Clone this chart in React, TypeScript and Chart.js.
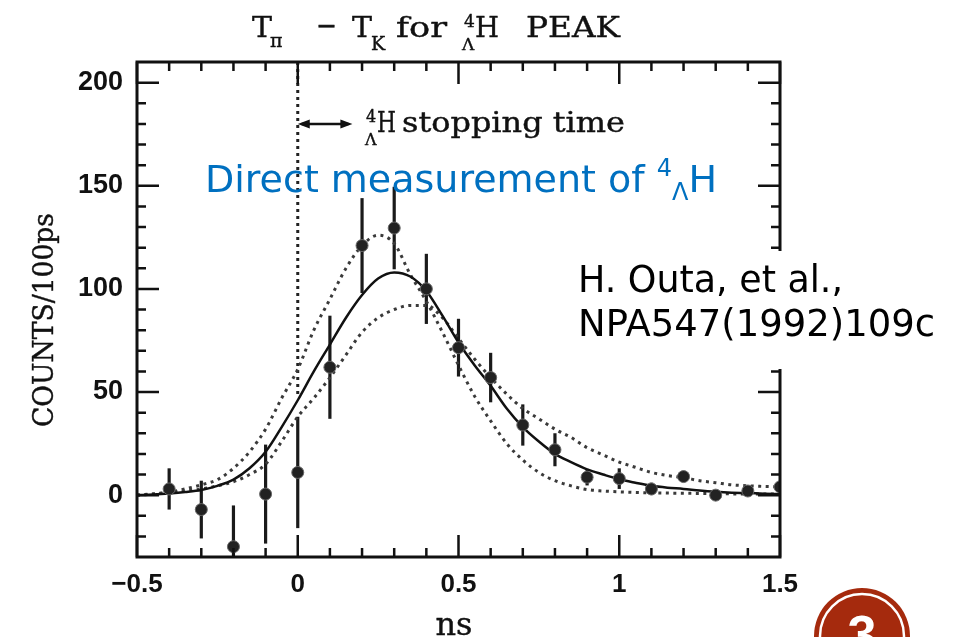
import React, { useEffect, useRef } from 'react';
import { Chart, registerables } from 'chart.js';

Chart.register(...registerables);

// ---- axis ticks ----
const xTickValues = [-0.5, 0, 0.5, 1, 1.5];
const xTickLabels = ['−0.5', '0', '0.5', '1', '1.5'];
const xMinorTicks = [-0.4, -0.3, -0.2, -0.1, 0.1, 0.2, 0.3, 0.4, 0.6, 0.7, 0.8, 0.9, 1.1, 1.2, 1.3, 1.4];
const yTickValues = [0, 50, 100, 150, 200];
const yTickLabels = ['0', '50', '100', '150', '200'];
const yMinorTicks = [-20, -10, 10, 20, 30, 40, 60, 70, 80, 90, 110, 120, 130, 140, 160, 170, 180, 190];

// ---- measured data (ns, counts/100ps, error) ----
const timeNs = [-0.4, -0.3, -0.2, -0.1, 0, 0.1, 0.2, 0.3, 0.4, 0.5, 0.6, 0.7, 0.8, 0.9, 1.0, 1.1, 1.2, 1.3, 1.4, 1.5];
const counts = [3, -7, -25, 0.5, 11, 62, 121, 129.5, 100, 71.5, 57, 34, 22, 8.7, 8, 3, 9, 0, 2, 4];
const countErrors = [10, 14, 20, 24, 27, 25, 23, 20, 17, 14, 12, 10, 8, 4, 5, 3, 2, 2, 2, 2];

// ---- fitted curves ----
const curveX = [-0.5, -0.45, -0.4, -0.35, -0.3, -0.25, -0.2, -0.15, -0.1, -0.05, 0, 0.05, 0.1, 0.15, 0.2, 0.25, 0.3, 0.35, 0.4, 0.45, 0.5, 0.55, 0.6, 0.65, 0.7, 0.75, 0.8, 0.85, 0.9, 0.95, 1.0, 1.05, 1.1, 1.15, 1.2, 1.25, 1.3, 1.35, 1.4, 1.45, 1.5];
const fitCurve = [0, 0.3, 0.8, 1.5, 2.5, 4.5, 7.5, 13, 21, 33, 46, 60, 73, 86, 97, 105, 108, 106, 99, 87, 74, 63, 53, 42, 33, 26, 20, 16, 12.5, 10, 7.7, 6, 4.5, 3.6, 3, 2.2, 1.6, 1.2, 1, 0.7, 0.5];
const narrowCurve = [0, 0.6, 1.5, 3, 5, 7.5, 13, 21, 32, 47, 61, 80, 95, 110, 121, 126, 122, 107, 94, 79, 63, 48, 36, 25, 17, 11, 7, 4.5, 2.7, 2, 1.6, 1.3, 1.1, 1, 0.9, 0.8, 0.7, 0.6, 0.5, 0.5, 0.5];
const broadCurve = [0, 0.5, 1.2, 2, 3, 4.5, 6.5, 10, 15, 26, 38, 47, 57, 68, 79, 86, 90, 92, 92, 86, 76, 66, 57, 49, 42, 37, 32, 28, 23, 19.5, 16, 13.5, 11, 9.5, 8.5, 7, 6, 5, 4.5, 4.2, 4];

// ---- stopping-time marker ----
const stopLineX = [0, 0];
const stopLineY = [210, 48];
const arrowX = [0, 0.17];
const arrowY = 180;

const SERIF = '"DejaVu Serif", serif';
const SANS = '"DejaVu Sans", sans-serif';
const INK = 0.4;

function txt(ctx: CanvasRenderingContext2D, s: string, x: number, y: number, font: string, color = '#111', targetW = 0, align: CanvasTextAlign = 'left', thicken = 0) {
  ctx.save();
  ctx.font = font;
  ctx.fillStyle = color;
  ctx.textAlign = align;
  ctx.textBaseline = 'alphabetic';
  const w = ctx.measureText(s).width;
  const sx = targetW > 0 ? targetW / w : 1;
  ctx.translate(x, y);
  ctx.scale(sx, 1);
  ctx.fillText(s, 0, 0);
  if (thicken > 0) {
    ctx.strokeStyle = color;
    ctx.lineWidth = thicken;
    ctx.lineJoin = 'round';
    ctx.strokeText(s, 0, 0);
  }
  ctx.restore();
  return w * sx;
}

const overlayPlugin = {
  id: 'overlayPlugin',
  beforeDatasetsDraw(chart: any) {
    const { ctx, chartArea: a, scales } = chart;
    const x = scales.x, y = scales.y;
    ctx.save();
    ctx.beginPath();
    ctx.rect(a.left, a.top, a.right - a.left, a.bottom - a.top);
    ctx.clip();
    ctx.strokeStyle = '#1a1a1a';
    ctx.lineWidth = 3.2;
    timeNs.forEach((t, i) => {
      const px = x.getPixelForValue(t);
      ctx.beginPath();
      ctx.moveTo(px, y.getPixelForValue(counts[i] + countErrors[i]));
      ctx.lineTo(px, y.getPixelForValue(counts[i] - countErrors[i]));
      ctx.stroke();
    });
    ctx.restore();
  },
  afterDatasetsDraw(chart: any) {
    const { ctx, chartArea: a, scales } = chart;
    const x = scales.x, y = scales.y;
    ctx.save();
    // frame
    ctx.strokeStyle = '#111';
    ctx.lineWidth = 3;
    ctx.strokeRect(a.left, a.top, a.right - a.left, a.bottom - a.top);
    // ticks
    ctx.lineWidth = 2.5;
    const tickX = (v: number, len: number) => {
      const px = x.getPixelForValue(v);
      ctx.beginPath();
      ctx.moveTo(px, a.bottom); ctx.lineTo(px, a.bottom - len);
      ctx.moveTo(px, a.top); ctx.lineTo(px, a.top + len);
      ctx.stroke();
    };
    const tickY = (v: number, len: number) => {
      const py = y.getPixelForValue(v);
      ctx.beginPath();
      ctx.moveTo(a.left, py); ctx.lineTo(a.left + len, py);
      ctx.moveTo(a.right, py); ctx.lineTo(a.right - len, py);
      ctx.stroke();
    };
    xMinorTicks.forEach(v => tickX(v, 9));
    xTickValues.forEach(v => tickX(v, 22));
    yMinorTicks.forEach(v => tickY(v, 9));
    yTickValues.forEach(v => tickY(v, 22));

    // stopping time arrow
    const ax0 = x.getPixelForValue(arrowX[0]);
    const ax1 = x.getPixelForValue(arrowX[1]);
    const ay = y.getPixelForValue(arrowY);
    ctx.strokeStyle = '#111';
    ctx.fillStyle = '#111';
    ctx.lineWidth = 2.5;
    ctx.beginPath(); ctx.moveTo(ax0 + 4, ay); ctx.lineTo(ax1 - 4, ay); ctx.stroke();
    ctx.beginPath(); ctx.moveTo(ax0, ay); ctx.lineTo(ax0 + 12, ay - 4.5); ctx.lineTo(ax0 + 12, ay + 4.5); ctx.closePath(); ctx.fill();
    ctx.beginPath(); ctx.moveTo(ax1, ay); ctx.lineTo(ax1 - 12, ay - 4.5); ctx.lineTo(ax1 - 12, ay + 4.5); ctx.closePath(); ctx.fill();
    ctx.restore();

    // annotation text
    txt(ctx, '4', 366, 122, '16px ' + SERIF, '#111', 0, 'left', INK);
    txt(ctx, 'Λ', 365, 145, '16px ' + SERIF, '#111', 0, 'left', INK);
    txt(ctx, 'H', 377, 132, '27px ' + SERIF, '#111', 19, 'left', INK);
    txt(ctx, 'stopping time', 402, 132, '27px ' + SERIF, '#111', 223, 'left', INK);

    // title
    txt(ctx, 'T', 252, 37, '28px ' + SERIF, '#111', 20, 'left', INK);
    txt(ctx, 'π', 270, 47, '19px ' + SERIF, '#111', 0, 'left', INK);
    txt(ctx, '−', 316, 35, '28px ' + SERIF, '#111', 21, 'left', INK);
    txt(ctx, 'T', 352, 37, '28px ' + SERIF, '#111', 20, 'left', INK);
    txt(ctx, 'K', 371, 50, '19px ' + SERIF, '#111', 0, 'left', INK);
    txt(ctx, 'for', 396, 37, '28px ' + SERIF, '#111', 51, 'left', INK);
    txt(ctx, '4', 464, 27, '17px ' + SERIF, '#111', 0, 'left', INK);
    txt(ctx, 'Λ', 462, 50, '17px ' + SERIF, '#111', 0, 'left', INK);
    txt(ctx, 'H', 475, 37, '28px ' + SERIF, '#111', 24, 'left', INK);
    txt(ctx, 'PEAK', 526, 37, '28px ' + SERIF, '#111', 94, 'left', INK);

    // y-axis title
    ctx.save();
    ctx.translate(53, 320);
    ctx.rotate(-Math.PI / 2);
    txt(ctx, 'COUNTS/100ps', -107, 0, '27px ' + SERIF, '#111', 214, 'left', INK);
    ctx.restore();

    // x-axis title
    txt(ctx, 'ns', 454, 635, '32px ' + SERIF, '#111', 0, 'center', INK);

    // blue overlay text
    const blue = '#0070C0';
    let bx = 205;
    bx += txt(ctx, 'Direct measurement of ', bx, 192, '38px ' + SANS, blue);
    bx += txt(ctx, '4', bx, 176, '24px ' + SANS, blue);
    bx += txt(ctx, 'Λ', bx, 200, '24px ' + SANS, blue);
    txt(ctx, 'H', bx, 192, '38px ' + SANS, blue);

    // citation box
    ctx.save();
    ctx.fillStyle = '#fff';
    ctx.fillRect(572, 251, 381, 118);
    ctx.restore();
    txt(ctx, 'H. Outa, et al.,', 578, 292, '37px ' + SANS, '#000', 265);
    txt(ctx, 'NPA547(1992)109c', 578, 336, '37px ' + SANS, '#000', 357);

    // slide number badge
    ctx.save();
    ctx.fillStyle = '#A52A0D';
    ctx.beginPath(); ctx.arc(862, 636, 48, 0, Math.PI * 2); ctx.fill();
    ctx.strokeStyle = '#fff';
    ctx.lineWidth = 2.5;
    ctx.beginPath(); ctx.arc(862, 636, 42, 0, Math.PI * 2); ctx.stroke();
    ctx.restore();
    txt(ctx, '3', 862, 652, 'bold 52px "Liberation Sans", sans-serif', '#fff', 0, 'center');
  },
};

export default function App() {
  const canvasRef = useRef<HTMLCanvasElement | null>(null);

  useEffect(() => {
    const canvas = canvasRef.current;
    if (!canvas) return;
    const dotted = (ys: number[]) => ({
      type: 'line' as const,
      data: curveX.map((t, i) => ({ x: t, y: ys[i] })),
      borderColor: '#3a3a3a',
      borderWidth: 3,
      borderDash: [3, 4.5],
      pointRadius: 0,
      cubicInterpolationMode: 'monotone' as const,
      fill: false,
      order: 3,
    });
    const chart = new Chart(canvas, {
      type: 'line',
      data: {
        datasets: [
          {
            type: 'scatter',
            data: timeNs.map((t, i) => ({ x: t, y: counts[i] })),
            backgroundColor: '#222',
            borderColor: '#666',
            borderWidth: 1,
            pointRadius: 6,
            showLine: false,
            order: 0,
          } as any,
          {
            type: 'line',
            data: curveX.map((t, i) => ({ x: t, y: fitCurve[i] })),
            borderColor: '#111',
            borderWidth: 2.5,
            pointRadius: 0,
            cubicInterpolationMode: 'monotone',
            fill: false,
            order: 1,
          },
          dotted(narrowCurve),
          dotted(broadCurve),
          {
            type: 'line',
            data: stopLineX.map((t, i) => ({ x: t, y: stopLineY[i] })),
            borderColor: '#222',
            borderWidth: 3,
            borderDash: [3, 4],
            pointRadius: 0,
            fill: false,
            order: 4,
          },
        ],
      },
      options: {
        animation: false,
        responsive: false,
        devicePixelRatio: 1,
        events: [],
        layout: { padding: { top: 62, right: 173, bottom: 0, left: 0 } },
        plugins: { legend: { display: false }, tooltip: { enabled: false }, title: { display: false } },
        scales: {
          x: {
            type: 'linear',
            min: -0.5,
            max: 1.5,
            grid: { display: false, drawTicks: false },
            border: { display: false },
            afterBuildTicks: (scale: any) => { scale.ticks = xTickValues.map(v => ({ value: v })); },
            afterFit: (scale: any) => { scale.height = 80; },
            ticks: {
              autoSkip: false,
              maxRotation: 0,
              minRotation: 0,
              padding: 12,
              color: '#111',
              font: { family: '"Liberation Sans", Arial, sans-serif', size: 26, weight: 'bold' },
              callback: (v: any) => { const i = xTickValues.indexOf(Number(v)); return i >= 0 ? xTickLabels[i] : ''; },
            },
          },
          y: {
            type: 'linear',
            min: -30,
            max: 210,
            grid: { display: false, drawTicks: false },
            border: { display: false },
            afterBuildTicks: (scale: any) => { scale.ticks = yTickValues.map(v => ({ value: v })); },
            afterFit: (scale: any) => { scale.width = 137; },
            ticks: {
              autoSkip: false,
              padding: 14,
              color: '#111',
              font: { family: '"Liberation Sans", Arial, sans-serif', size: 27, weight: 'bold' },
              callback: (v: any) => { const i = yTickValues.indexOf(Number(v)); return i >= 0 ? yTickLabels[i] : ''; },
            },
          },
        },
      } as any,
      plugins: [overlayPlugin],
    });
    return () => chart.destroy();
  }, []);

  return (
    <div style={{ position: 'fixed', left: 0, top: 0, width: 953, height: 637, background: '#fff', overflow: 'hidden' }}>
      <canvas ref={canvasRef} width={953} height={637} style={{ display: 'block', width: 953, height: 637 }} />
    </div>
  );
}
